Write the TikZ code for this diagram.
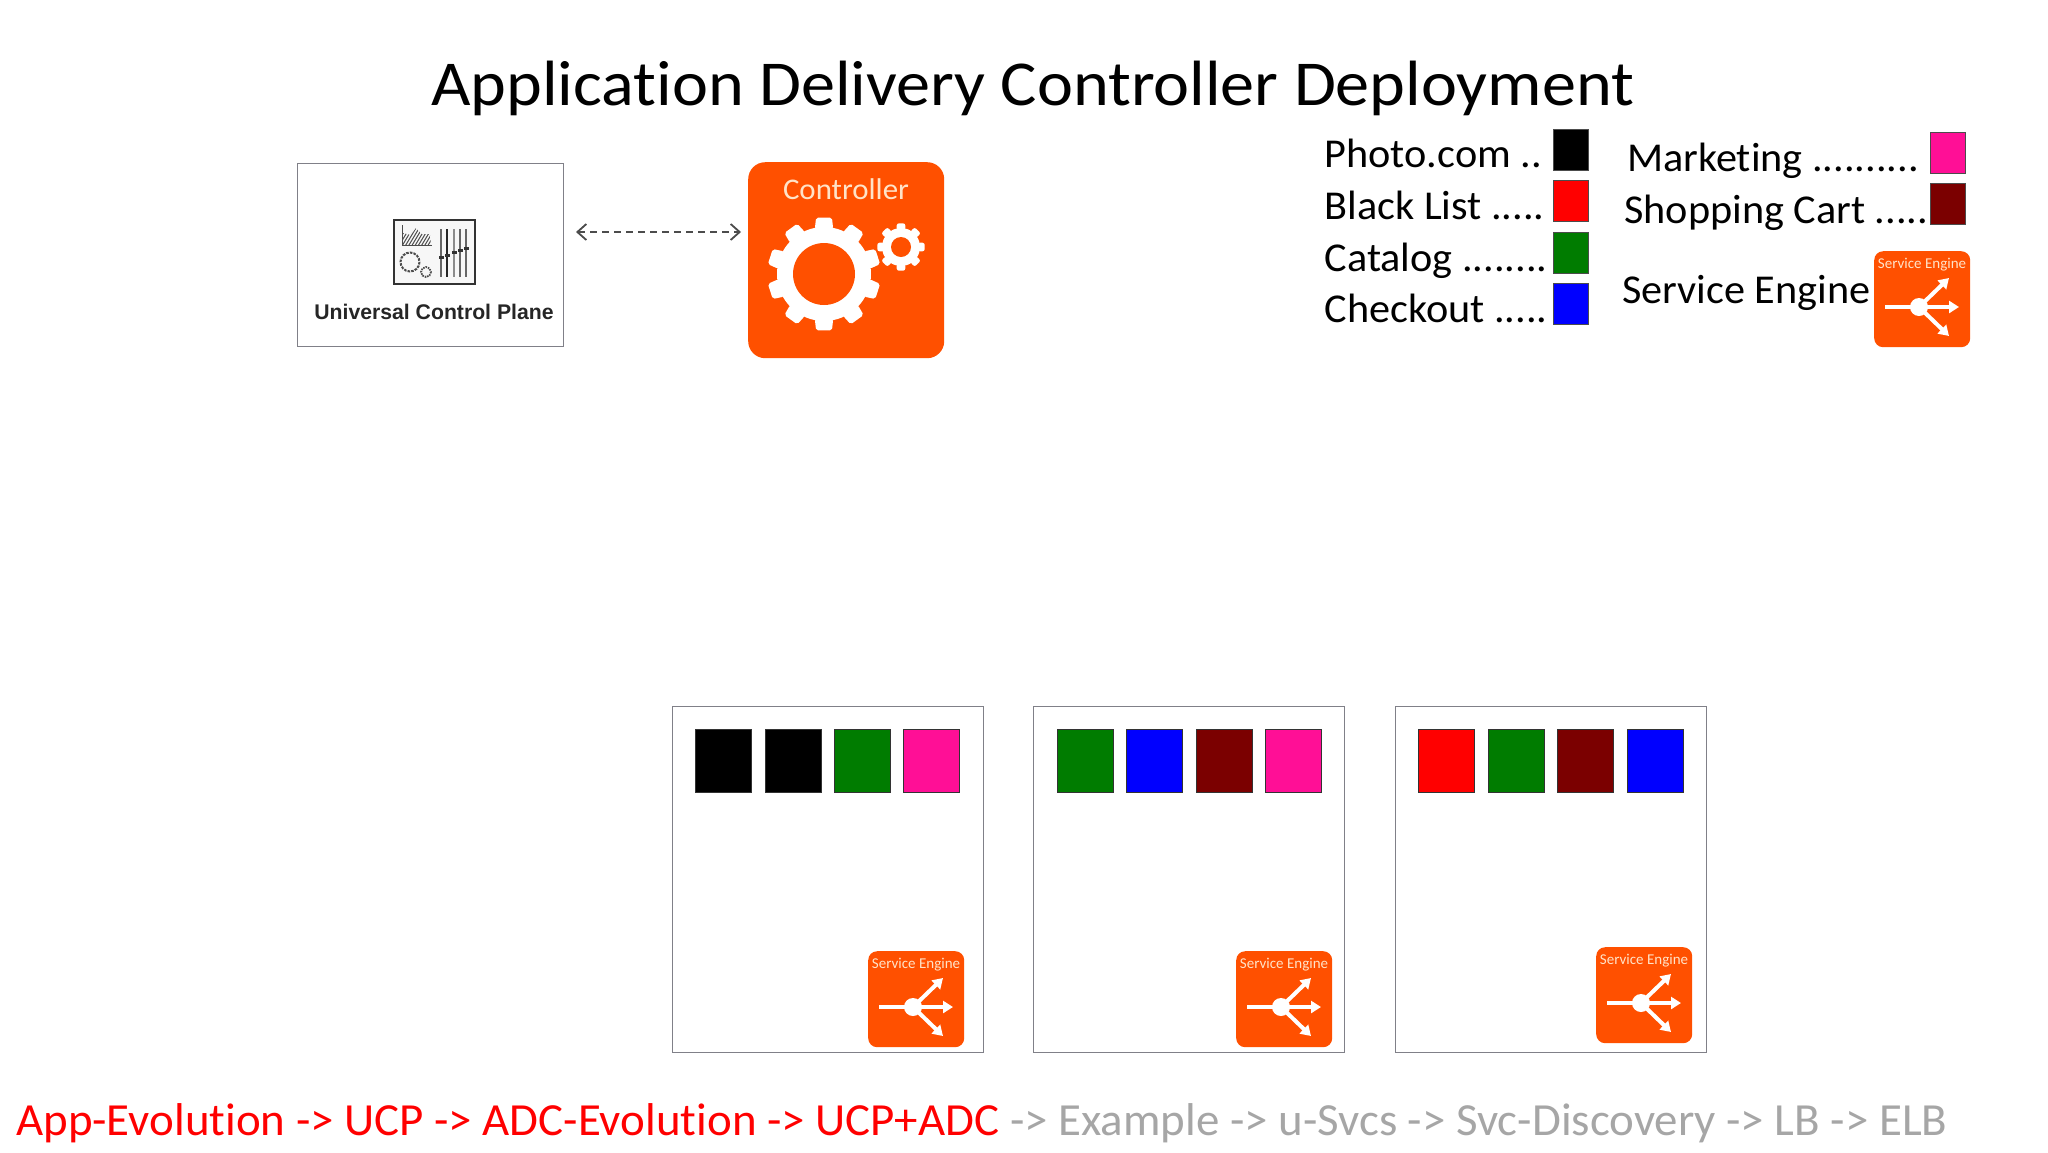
\documentclass[tikz,border=0pt]{standalone}
\usepackage{fontspec}
\setmainfont{Carlito}[Ligatures={NoCommon}]
\newfontfamily\titlefont{Carlito}[Ligatures={NoCommon},FakeStretch=1.065]
\newfontfamily\keyfont{Carlito}[Ligatures={NoCommon},FakeStretch=1.03]
\newfontfamily\footfont{Carlito}[Ligatures={NoCommon},FakeStretch=1.02]
\newfontfamily\ucpfont{Liberation Sans}
\usetikzlibrary{arrows.meta}
\definecolor{seorange}{HTML}{FF5000}
\definecolor{selabel}{HTML}{FFE3C8}
\definecolor{edgegray}{HTML}{808088}
\definecolor{darkred}{HTML}{7B0000}
\definecolor{catgreen}{HTML}{007C00}
\definecolor{mkpink}{HTML}{FF0F96}
\definecolor{footgray}{HTML}{A6A6A6}
\tikzset{
  x=1pt,y=-1pt,
  hostbox/.style={draw=edgegray,line width=1.3pt,fill=white,anchor=north west,minimum width=311pt,minimum height=346pt,inner sep=0pt},
  tile/.style={draw=black!80,line width=1pt,anchor=north west,minimum width=56pt,minimum height=63pt,inner sep=0pt},
  keytile/.style={draw=black!70,line width=1pt,anchor=north west,minimum width=35pt,minimum height=41pt,inner sep=0pt},
  keytext/.style={anchor=base west,inner sep=0pt,font=\keyfont\fontsize{41}{48}\selectfont},
  orangebox/.style={fill=seorange,rounded corners=#1,anchor=north west,inner sep=0pt},
  se/.pic={
    \node[orangebox=9pt,minimum width=96pt,minimum height=96pt] (-box) at (0,0) {};
    \node[text=selabel,inner sep=0pt,font=\fontsize{15}{18}\selectfont] (-label) at (48,14) {Service Engine};
    \coordinate (-in) at (11,56);
    \coordinate (-hub) at (45,56);
    \coordinate (-up) at (75,27);
    \coordinate (-mid) at (85,56);
    \coordinate (-down) at (75,85);
    \draw[white,line width=4.5pt] (-in) -- (-hub);
    \fill[white] (-hub) circle (9);
    \draw[white,line width=4pt,-{Triangle[length=10pt,width=12pt]}] (-hub) -- (-up);
    \draw[white,line width=4pt,-{Triangle[length=10pt,width=12pt]}] (-hub) -- (-mid);
    \draw[white,line width=4pt,-{Triangle[length=10pt,width=12pt]}] (-hub) -- (-down);
  },
}
\newcommand{\gearshape}[6]{% x y outer root hole teeth
  \fill[white] (#1,#2) circle (#4);
  \foreach \a in {1,...,#6}{
    \pgfmathsetmacro{\ang}{90+360*\a/#6}
    \pgfmathsetmacro{\hw}{115/#6}
    \pgfmathsetmacro{\hwt}{80/#6}
    \fill[white,rounded corners=2pt] ([shift={(\ang-\hw:#4-1)}]#1,#2) -- ([shift={(\ang-\hwt:#3)}]#1,#2) -- ([shift={(\ang+\hwt:#3)}]#1,#2) -- ([shift={(\ang+\hw:#4-1)}]#1,#2) -- cycle;
  }
  \fill[seorange] (#1,#2) circle (#5);
}
\begin{document}
\begin{tikzpicture}
\useasboundingbox (0,0) rectangle (2048,1152);
\fill[white] (0,0) rectangle (2048,1152);

% title
\node[anchor=base west,inner sep=0pt,font=\titlefont\fontsize{64}{70}\selectfont] (title) at (431,105) {Application Delivery Controller Deployment};

% universal control plane
\node[draw=edgegray,line width=1.3pt,anchor=north west,minimum width=266pt,minimum height=183pt,inner sep=0pt] (ucp) at (297,163) {};
\node[draw=black!80,line width=2pt,fill=black!3,anchor=north west,minimum width=81pt,minimum height=64pt,inner sep=0pt] (icon) at (393,219) {};
\node[anchor=base,inner sep=0pt,text=black!85,font=\ucpfont\bfseries\fontsize{21.2}{25}\selectfont] (ucplabel) at (434,319) {Universal Control Plane};
\begin{scope}[shift={(-1,-1)}]
% icon: chart
\begin{scope}
\clip (404,234) -- (412,236) -- (417,229) -- (423,235) -- (431,235) -- (432,246) -- (404,246) -- cycle;
\foreach \k in {0,...,12}{\draw[black!70,line width=1pt] (396+3.2*\k,248) -- (408+3.2*\k,228);}
\end{scope}
\draw[black!70,line width=1pt] (403,226) -- (403,246) -- (433,246);
% icon: gears
\draw[black!70,line width=2pt,dash pattern=on 2.5pt off 1.2pt] (411,263) circle (9.5);
\draw[black!70,line width=1.8pt,dash pattern=on 1.5pt off 1pt] (427,273) circle (5);
% icon: sliders
\foreach \xx/\w/\g in {442/1.3/60,448/1.8/85,455/1.2/45,461/1.2/60,467/1.2/60}{\draw[black!\g,line width=\w pt] (\xx,230) -- (\xx,278);}
\foreach \xx/\yy in {442/258,448/256,455/253,461/251,467/249}{\fill[black!80] (\xx-2.5,\yy-1.5) rectangle (\xx+2.5,\yy+1.5);}
\end{scope}

% controller
\node[orangebox=17pt,minimum width=196pt,minimum height=196pt] (ctrl) at (748,162) {};
\node[text=selabel,inner sep=0pt,font=\keyfont\fontsize{30}{34}\selectfont] (ctrllabel) at (846,189) {Controller};
\gearshape{824}{274}{57}{47}{31}{10}
\gearshape{901}{247}{24}{19}{10}{8}

% link
\coordinate (linkl) at (576,232);
\coordinate (linkr) at (741,232);
\draw[black!70,line width=1.8pt,dash pattern=on 7pt off 5pt,{Straight Barb[length=9pt,width=16pt]}-{Straight Barb[length=9pt,width=16pt]}] (linkl) -- (linkr);

% legend
\node[keytext] (kphoto) at (1324.5,167) {Photo.com ..};
\node[keytext] (kblack) at (1324.5,219) {Black List .....};
\node[keytext] (kcat) at (1324.5,271) {Catalog ........};
\node[keytext] (kcheck) at (1324.5,322) {Checkout .....};
\node[keytile,fill=black] (sphoto) at (1553,129) {};
\node[keytile,fill=red] (sblack) at (1553,180) {};
\node[keytile,fill=catgreen] (scat) at (1553,232) {};
\node[keytile,fill=blue] (scheck) at (1553,283) {};
\node[keytext] (kmark) at (1627,171) {Marketing ..........};
\node[keytext] (kshop) at (1624,223) {Shopping Cart .....};
\node[keytext] (kse) at (1622,303) {Service Engine};
\node[keytile,fill=mkpink] (smark) at (1930,132) {};
\node[keytile,fill=darkred] (sshop) at (1930,183) {};
\pic (sekey) at (1874,251) {se};

% host boxes
\node[hostbox] (h1) at (672,706) {};
\node[hostbox] (h2) at (1032.5,706) {};
\node[hostbox] (h3) at (1394.5,706) {};

\node[tile,fill=black] (a1) at (695,729) {};
\node[tile,fill=black] (a2) at (764.5,729) {};
\node[tile,fill=catgreen] (a3) at (834,729) {};
\node[tile,fill=mkpink] (a4) at (903,729) {};

\node[tile,fill=catgreen] (b1) at (1056.5,729) {};
\node[tile,fill=blue] (b2) at (1126,729) {};
\node[tile,fill=darkred] (b3) at (1195.5,729) {};
\node[tile,fill=mkpink] (b4) at (1265,729) {};

\node[tile,fill=red] (c1) at (1418,729) {};
\node[tile,fill=catgreen] (c2) at (1488,729) {};
\node[tile,fill=darkred] (c3) at (1557,729) {};
\node[tile,fill=blue] (c4) at (1626.5,729) {};

\pic (se1) at (868,951) {se};
\pic (se2) at (1236,951) {se};
\pic (se3) at (1596,947) {se};

% footer
\node[anchor=base west,inner sep=0pt,font=\footfont\fontsize{46}{50}\selectfont] (footer) at (16,1135) {\textcolor{red}{App-Evolution -> UCP -> ADC-Evolution -> UCP+ADC} \textcolor{footgray}{-> Example -> u-Svcs -> Svc-Discovery -> LB -> ELB}};
\end{tikzpicture}
\end{document}
